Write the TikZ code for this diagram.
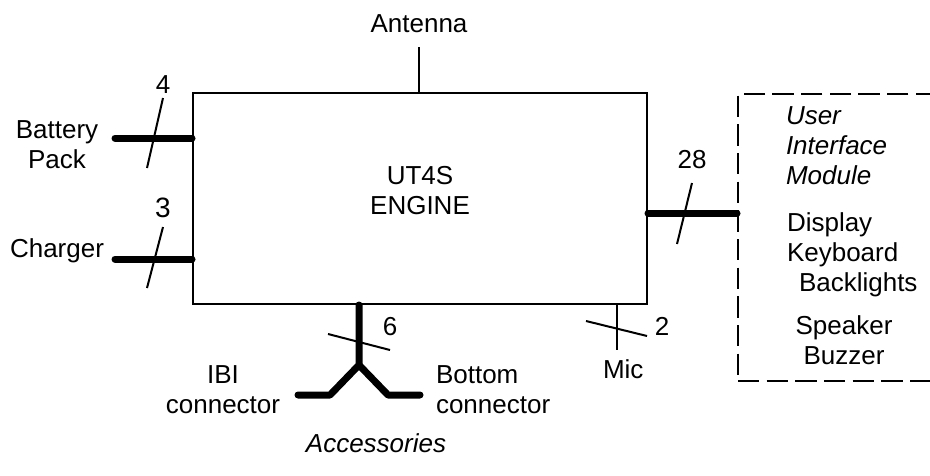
\documentclass[tikz,border=0pt]{standalone}
\usepackage{fontspec}
\setmainfont{Liberation Sans}
\usetikzlibrary{positioning}

\begin{document}
\begin{tikzpicture}[
        x=0.75pt, y=-0.75pt,
        line width=1.5pt,
        bus/.style={line width=5.25pt, line cap=round, line join=round},
        txt/.style={font=\fontsize{19.5}{22.5}\selectfont, inner sep=0pt},
        blockbox/.style={draw, inner sep=0pt, minimum width=340.5pt, minimum height=158.25pt},
        uibox/.style={draw, dash pattern=on 16pt off 5.5pt, inner sep=0pt,
            minimum width=225pt, minimum height=215.25pt},
    ]
        \useasboundingbox (0,0) rectangle (930,475);

        % Engine block and user interface module
        \node[blockbox] (engine) at (420,198.5) {};
        \node[uibox, anchor=north west] (ui) at (737,93) {};

        % Free ends
        \coordinate (ant) at (419,47);
        \coordinate (batt) at (115,138);
        \coordinate (chg) at (115,259);
        \coordinate (uilink) at (692,213);
        \coordinate (yj) at (359,365);
        \coordinate (ibi) at (298,395);
        \coordinate (bot) at (420,395);
        \coordinate (mic) at (617,350);

        % Connections
        \draw (ant) -- (ant |- engine.north);
        \draw[bus] (batt) -- (batt -| engine.west);
        \draw[bus] (chg) -- (chg -| engine.west);
        \draw[bus] (engine.east |- uilink) -- (ui.west |- uilink);
        \draw[bus] (engine.south -| yj) -- (yj) -- (330,395) -- (ibi);
        \draw[bus] (yj) -- (388,395) -- (bot);
        \draw (engine.south -| mic) -- (mic);

        % Bus width marks
        \draw (147,168) -- (163,98);
        \draw (147,288) -- (163,227);
        \draw (677,244) -- (692,183);
        \draw (328,334) -- (390,350);
        \draw (586,321) -- (647,336);

        % Labels
        \node[txt, anchor=base] (lant) at (419,32) {Antenna};
        \node[txt, anchor=north, align=center] (lbatt) at (57,120) {Battery\\Pack};
        \node[txt, anchor=base] (lchg) at (57,257) {Charger};
        \node[txt, anchor=base] (n4) at (163,93) {4};
        \node[txt, anchor=base, font=\fontsize{21}{25}\selectfont] (n3) at (163,217) {3};
        \node[txt, anchor=base] (n28) at (692,168) {28};
        \node[txt, anchor=base] (n6) at (390,335) {6};
        \node[txt, anchor=base] (n2) at (662,335) {2};
        \node[txt, anchor=north, align=center] (leng) at (420,165) {UT4S\\ENGINE};
        \node[txt, anchor=north, align=center] (libi) at (223,365) {IBI\\connector};
        \node[txt, anchor=north west, align=left] (lbot) at (435,365) {Bottom\\connector};
        \node[txt, anchor=base west] (lmic) at (602,378) {Mic};
        \node[txt, anchor=base, font=\fontsize{19.5}{22.5}\selectfont\itshape] (lacc) at (376,452) {Accessories};
        \node[txt, anchor=north west, align=left, font=\fontsize{19.5}{22.5}\selectfont\itshape] (lui) at (785,106) {User\\Interface\\Module};
        \node[txt, anchor=north west, align=left] (lparts) at (786,212) {Display\\Keyboard\\\hspace*{9pt}Backlights};
        \node[txt, anchor=north, align=center] (lspk) at (844,315) {Speaker\\Buzzer};
    \end{tikzpicture}
\end{document}
